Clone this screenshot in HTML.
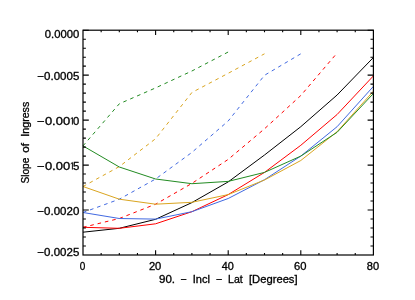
<!DOCTYPE html>
<html><head><meta charset="utf-8"><style>html,body{margin:0;padding:0;background:#fff}svg{display:block}text{font-family:"Liberation Sans",sans-serif;fill:#000}</style></head><body>
<svg width="415" height="300" viewBox="0 0 415 300">
<rect width="415" height="300" fill="#fff"/>
<polyline fill="none" stroke="#228b22" stroke-width="1" stroke-dasharray="3.6,3.9" points="83.0,145.9 119.3,103.8 155.6,87.9 191.9,71.0 228.2,52.0"/>
<polyline fill="none" stroke="#daa520" stroke-width="1" stroke-dasharray="3.6,3.9" points="83.0,186.5 119.3,166.6 155.6,138.7 191.9,92.5 228.2,73.3 264.5,53.8"/>
<polyline fill="none" stroke="#4169e1" stroke-width="1" stroke-dasharray="3.6,3.9" points="83.0,212.5 119.3,199.2 155.6,179.0 191.9,152.4 228.2,121.0 264.5,75.3 300.8,53.8"/>
<polyline fill="none" stroke="#ff0000" stroke-width="1" stroke-dasharray="3.6,3.9" points="83.0,227.3 119.3,218.5 155.6,204.2 191.9,183.4 228.2,159.4 264.5,128.8 300.8,95.5 337.1,53.0"/>
<polyline fill="none" stroke="#000000" stroke-width="1.0" points="83.0,232.2 119.3,228.3 155.6,219.3 191.9,202.6 228.2,181.9 264.5,155.0 300.8,126.7 337.1,95.0 373.4,57.5"/>
<polyline fill="none" stroke="#ff0000" stroke-width="1.0" points="83.0,227.3 119.3,228.3 155.6,223.8 191.9,211.7 228.2,194.6 264.5,172.4 300.8,145.3 337.1,114.5 373.4,75.9"/>
<polyline fill="none" stroke="#4169e1" stroke-width="1.0" points="83.0,212.5 119.3,218.5 155.6,219.1 191.9,211.7 228.2,198.5 264.5,179.7 300.8,156.1 337.1,126.7 373.4,86.4"/>
<polyline fill="none" stroke="#daa520" stroke-width="1.0" points="83.0,186.5 119.3,199.2 155.6,204.2 191.9,202.3 228.2,194.6 264.5,180.0 300.8,160.5 337.1,131.7 373.4,91.2"/>
<polyline fill="none" stroke="#228b22" stroke-width="1.0" points="83.0,145.9 119.3,167.0 155.6,179.0 191.9,183.7 228.2,181.4 264.5,172.4 300.8,156.1 337.1,132.3 373.4,93.5"/>
<rect x="83.0" y="30.2" width="290.4" height="224.8" fill="none" stroke="#000" stroke-width="1.2"/>
<path d="M101.15 255.0v-2.1M101.15 30.2v2.1M119.30 255.0v-2.1M119.30 30.2v2.1M137.45 255.0v-2.1M137.45 30.2v2.1M155.60 255.0v-4.7M155.60 30.2v4.7M173.75 255.0v-2.1M173.75 30.2v2.1M191.90 255.0v-2.1M191.90 30.2v2.1M210.05 255.0v-2.1M210.05 30.2v2.1M228.20 255.0v-4.7M228.20 30.2v4.7M246.35 255.0v-2.1M246.35 30.2v2.1M264.50 255.0v-2.1M264.50 30.2v2.1M282.65 255.0v-2.1M282.65 30.2v2.1M300.80 255.0v-4.7M300.80 30.2v4.7M318.95 255.0v-2.1M318.95 30.2v2.1M337.10 255.0v-2.1M337.10 30.2v2.1M355.25 255.0v-2.1M355.25 30.2v2.1M83.0 30.20h5.8M373.4 30.20h-5.8M83.0 39.19h2.9M373.4 39.19h-2.9M83.0 48.18h2.9M373.4 48.18h-2.9M83.0 57.18h2.9M373.4 57.18h-2.9M83.0 66.17h2.9M373.4 66.17h-2.9M83.0 75.16h5.8M373.4 75.16h-5.8M83.0 84.15h2.9M373.4 84.15h-2.9M83.0 93.14h2.9M373.4 93.14h-2.9M83.0 102.14h2.9M373.4 102.14h-2.9M83.0 111.13h2.9M373.4 111.13h-2.9M83.0 120.12h5.8M373.4 120.12h-5.8M83.0 129.11h2.9M373.4 129.11h-2.9M83.0 138.10h2.9M373.4 138.10h-2.9M83.0 147.10h2.9M373.4 147.10h-2.9M83.0 156.09h2.9M373.4 156.09h-2.9M83.0 165.08h5.8M373.4 165.08h-5.8M83.0 174.07h2.9M373.4 174.07h-2.9M83.0 183.06h2.9M373.4 183.06h-2.9M83.0 192.06h2.9M373.4 192.06h-2.9M83.0 201.05h2.9M373.4 201.05h-2.9M83.0 210.04h5.8M373.4 210.04h-5.8M83.0 219.03h2.9M373.4 219.03h-2.9M83.0 228.02h2.9M373.4 228.02h-2.9M83.0 237.02h2.9M373.4 237.02h-2.9M83.0 246.01h2.9M373.4 246.01h-2.9" stroke="#000" stroke-width="1.1" fill="none"/>
<defs><filter id="g" filterUnits="userSpaceOnUse" x="0" y="0" width="415" height="300" color-interpolation-filters="sRGB"><feColorMatrix type="saturate" values="0"/></filter></defs><g filter="url(#g)">
<text transform="translate(44.81,37.80) scale(1.1074,1)" font-size="10.20" stroke="#000" stroke-width="0.3">0.0000</text>
<text transform="translate(37.39,79.66) scale(1.1298,1)" font-size="10.20" stroke="#000" stroke-width="0.3">−0.0005</text>
<text transform="translate(37.33,124.62) scale(1.2704,1)" font-size="10.20" stroke="#000" stroke-width="0.3">−0.00</text>
<path d="M70.7 118.92 L72.4 117.52 L72.4 124.62" fill="none" stroke="#000" stroke-width="0.95" stroke-linejoin="round"/>
<text transform="translate(73.11,124.62) scale(1.1004,1)" font-size="10.20" stroke="#000" stroke-width="0.3">0</text>
<text transform="translate(37.33,169.58) scale(1.2704,1)" font-size="10.20" stroke="#000" stroke-width="0.3">−0.00</text>
<path d="M70.7 163.88 L72.4 162.48 L72.4 169.58" fill="none" stroke="#000" stroke-width="0.95" stroke-linejoin="round"/>
<text transform="translate(72.99,169.58) scale(1.1234,1)" font-size="10.20" stroke="#000" stroke-width="0.3">5</text>
<text transform="translate(37.39,214.54) scale(1.1298,1)" font-size="10.20" stroke="#000" stroke-width="0.3">−0.0020</text>
<text transform="translate(37.39,256.20) scale(1.1298,1)" font-size="10.20" stroke="#000" stroke-width="0.3">−0.0025</text>
<text transform="translate(79.85,269.80) scale(0.9804,1)" font-size="10.20" stroke="#000" stroke-width="0.3">0</text>
<text transform="translate(148.89,269.80) scale(1.0987,1)" font-size="10.20" stroke="#000" stroke-width="0.3">20</text>
<text transform="translate(221.83,269.80) scale(1.0675,1)" font-size="10.20" stroke="#000" stroke-width="0.3">40</text>
<text transform="translate(294.09,269.80) scale(1.0987,1)" font-size="10.20" stroke="#000" stroke-width="0.3">60</text>
<text transform="translate(366.81,269.80) scale(1.0881,1)" font-size="10.20" stroke="#000" stroke-width="0.3">80</text>
<text transform="translate(158.99,282.60) scale(1.1339,1)" font-size="10.20" stroke="#000" stroke-width="0.3">90.</text>
<text transform="translate(180.83,282.60) scale(1.0392,1)" font-size="10.20" stroke="#000" stroke-width="0.3">−</text>
<text transform="translate(192.76,282.60) scale(1.0824,1)" font-size="10.20" stroke="#000" stroke-width="0.3">Incl</text>
<text transform="translate(216.13,282.60) scale(1.0392,1)" font-size="10.20" stroke="#000" stroke-width="0.3">−</text>
<text transform="translate(228.10,282.60) scale(1.0384,1)" font-size="10.20" stroke="#000" stroke-width="0.3">Lat</text>
<text transform="translate(248.96,282.60) scale(1.1001,1)" font-size="10.20" stroke="#000" stroke-width="0.3">[Degrees]</text>
<text transform="translate(28.80,183.45) rotate(-90) scale(0.9897,1)" font-size="10.20" stroke="#000" stroke-width="0.3">Slope</text>
<text transform="translate(28.80,152.71) rotate(-90) scale(1.1391,1)" font-size="10.20" stroke="#000" stroke-width="0.3">of</text>
<text transform="translate(28.80,136.71) rotate(-90) scale(1.0473,1)" font-size="10.20" stroke="#000" stroke-width="0.3">Ingress</text>
</g>
</svg></body></html>
